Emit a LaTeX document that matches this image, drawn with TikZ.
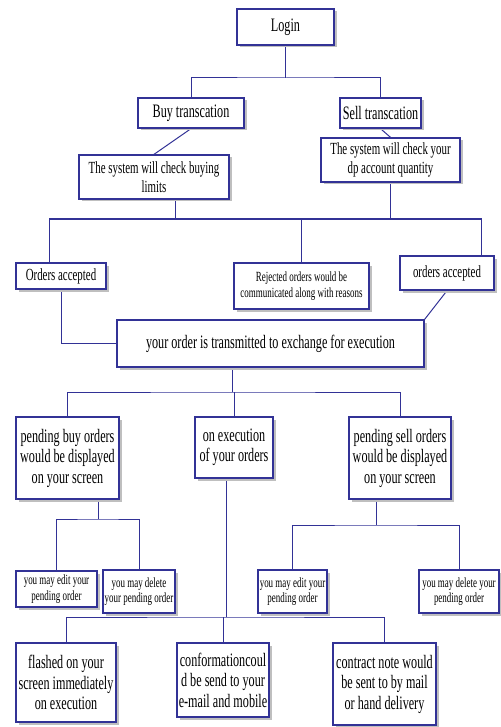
\documentclass[tikz,border=0pt]{standalone}
\usepackage{fontspec}
\setmainfont[FakeStretch=0.64]{Liberation Serif}
\usetikzlibrary{shadows,backgrounds}
\definecolor{boxblue}{RGB}{50,50,150}

\begin{document}
\begin{tikzpicture}[x=1pt, y=-1pt]
    \tikzstyle{fbox}=[draw=boxblue, line width=1.3pt, fill=white, align=center, inner sep=1pt,
        drop shadow={shadow xshift=2.5pt, shadow yshift=-2.5pt, fill=black!25, opacity=1}]
    \tikzstyle{big}=[font=\fontsize{19}{20.5}\selectfont]
    \tikzstyle{mid}=[font=\fontsize{17}{18.5}\selectfont]
    \tikzstyle{small}=[font=\fontsize{14}{15.5}\selectfont]
    \tikzstyle{conn}=[draw=boxblue, line width=1pt]

    \useasboundingbox (0,0) rectangle (500,727);

    % login and the two transactions
    \node[fbox, big, minimum width=97, minimum height=36] (login) at (285.5,27) {Login};
    \node[fbox, big, minimum width=106, minimum height=30] (buy) at (191,113) {Buy transcation};
    \node[fbox, big, minimum width=81, minimum height=30] (sell) at (380.5,113) {Sell transcation};
    \node[fbox, mid, minimum width=150, minimum height=44] (chkbuy) at (154,177) {The system will check buying\\limits};
    \node[fbox, mid, minimum width=139, minimum height=44] (chksell) at (390.5,160) {The system will check  your\\dp account quantity};

    % accepted / rejected
    \node[fbox, mid, minimum width=90, minimum height=26] (accl) at (61,276) {Orders accepted};
    \node[fbox, small, minimum width=135, minimum height=46] (rej) at (301.5,286) {Rejected orders would be\\communicated along with reasons};
    \node[fbox, mid, minimum width=94, minimum height=34] (accr) at (447,273) {orders accepted};
    \node[fbox, big, minimum width=307, minimum height=47] (trans) at (270.5,343.5) {your order is transmitted to exchange for execution};

    % pending and execution
    \node[fbox, big, minimum width=103, minimum height=82] (pbuy) at (67.5,458) {pending buy orders\\would be displayed\\on your screen};
    \node[fbox, big, minimum width=78, minimum height=61] (exec) at (234,447.5) {on execution\\of your orders};
    \node[fbox, big, minimum width=102, minimum height=82] (psell) at (400,458) {pending sell orders\\would be displayed\\on your screen};

    \node[fbox, small, minimum width=81, minimum height=36] (editl) at (56.5,589) {you may edit your\\pending order};
    \node[fbox, small, minimum width=72, minimum height=43] (dell) at (139,591.5) {you may delete\\your pending order};
    \node[fbox, small, minimum width=69, minimum height=43] (editr) at (292.5,591.5) {you may edit your\\pending order};
    \node[fbox, small, minimum width=80, minimum height=43] (delr) at (459,591.5) {you may delete your\\pending order};

    % after execution
    \node[fbox, big, minimum width=100, minimum height=79] (flash) at (66,682.5) {flashed on your\\screen immediately\\on execution};
    \node[fbox, big, minimum width=92, minimum height=74] (conf) at (223,680) {conformationcoul\\d be send to your\\e-mail and mobile};
    \node[fbox, big, minimum width=103, minimum height=82] (contr) at (384.5,684) {contract note would\\be sent to by mail\\or hand delivery};

    \begin{scope}[on background layer]
        \coordinate (j1) at (285.5,78);
        \draw[conn] (login) -- (j1);
        \draw[conn] (buy.north) |- (j1) -| (sell.north);
        \draw[conn] (buy.south) -- (chkbuy.north);
        \draw[conn] (sell.south) -- (chksell.north);

        \coordinate (busl) at (49,219);
        \coordinate (busr) at (481,219);
        \coordinate (j2) at (175,219);
        \draw[conn] (busl |- accl.north) -- (busl) -- (busr) -- (busr |- accr.north);
        \draw[conn] (j2 |- chkbuy.south) -- (j2);
        \draw[conn] (chksell.south) -- (chksell.south |- busl);
        \draw[conn] (rej.north) -- (rej.north |- busl);
        \draw[conn] (accl.south) |- (trans.west);
        \draw[conn] (accr.south) -- (trans.north east);

        \coordinate (j3) at (232,392);
        \draw[conn] (j3 |- trans.south) -- (j3);
        \draw[conn] (pbuy.north) |- (j3) -| (psell.north);
        \draw[conn] (exec.north) -- (exec.north |- j3);

        \coordinate (j4) at (98,519);
        \draw[conn] (j4 |- pbuy.south) -- (j4);
        \draw[conn] (editl.north) |- (j4) -| (dell.north);
        \coordinate (j5) at (376,525);
        \draw[conn] (j5 |- psell.south) -- (j5);
        \draw[conn] (editr.north) |- (j5) -| (delr.north);

        \coordinate (j6) at (226,617);
        \draw[conn] (j6 |- exec.south) -- (j6);
        \draw[conn] (flash.north) |- (j6) -| (contr.north);
        \draw[conn] (conf.north) -- (conf.north |- j6);
    \end{scope}
\end{tikzpicture}
\end{document}
